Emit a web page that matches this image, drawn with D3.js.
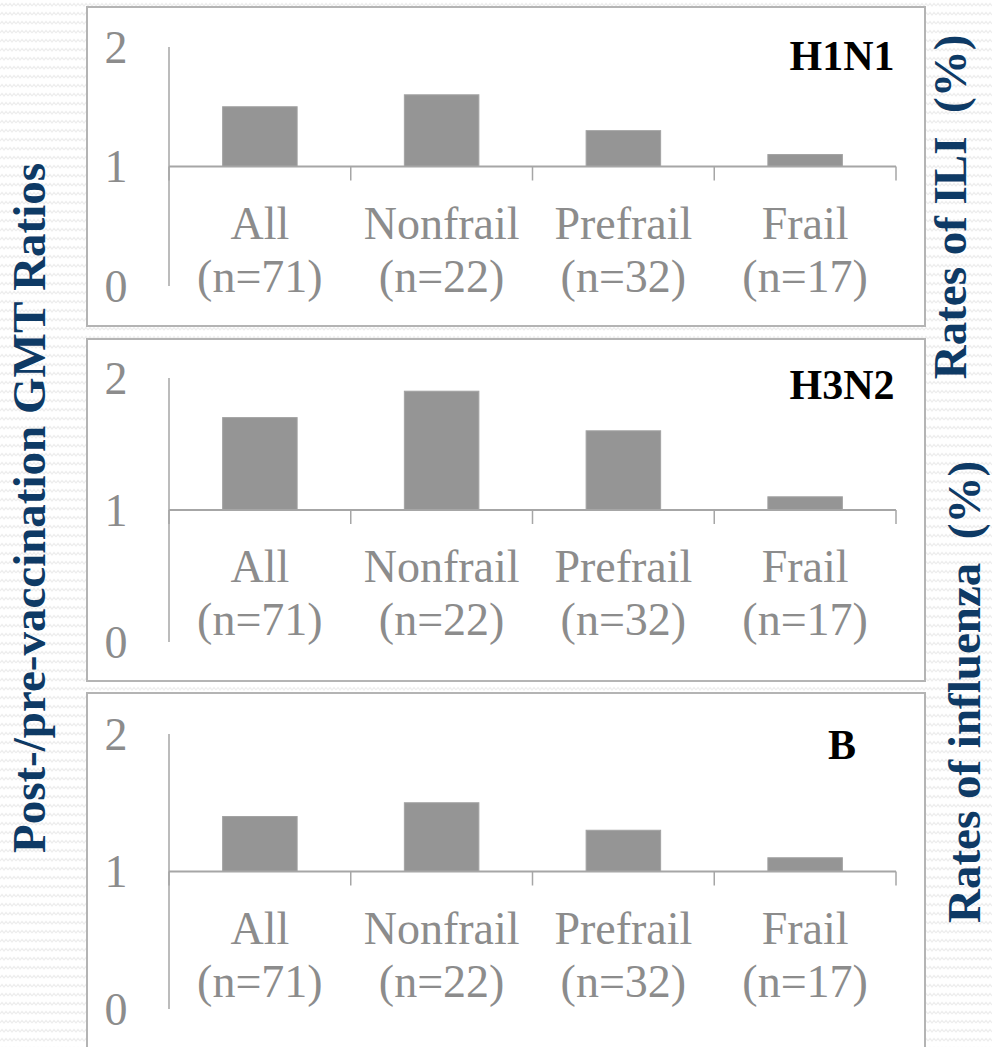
<!DOCTYPE html>
<html>
<head>
<meta charset="utf-8">
<script src="https://cdn.jsdelivr.net/npm/d3@7"></script>
<style>
  html, body { margin: 0; padding: 0; background: #fff; }
  svg { display: block; }
  svg text { font-family: "Times New Roman", "Liberation Serif", "DejaVu Serif", serif; }
</style>
</head>
<body>
<script>
// ---- data ----
const categories = ["All", "Nonfrail", "Prefrail", "Frail"];
const sampleSizes = ["(n=71)", "(n=22)", "(n=32)", "(n=17)"];
const panelNames = ["H1N1", "H3N2", "B"];
const h1n1Ratios = [1.5, 1.6, 1.3, 1.1];
const h3n2Ratios = [1.7, 1.9, 1.6, 1.1];
const fluBRatios = [1.4, 1.5, 1.3, 1.1];
const yTicks = [0, 1, 2];
const leftTitle = "Post-/pre-vaccination GMT Ratios";
const rightTitles = ["Rates of ILI\u00a0\u00a0(%)", "Rates of influenza\u00a0\u00a0(%)"];

const seriesList = [h1n1Ratios, h3n2Ratios, fluBRatios];

// ---- layout ----
const W = 992, H = 1047;
const layout = [
  { boxTop: 7,   boxBottom: 326,  y0: 286,  y2: 47,  titleY: 70 },
  { boxTop: 339, boxBottom: 681,  y0: 642,  y2: 378, titleY: 399 },
  { boxTop: 693, boxBottom: 1060, y0: 1009, y2: 734, titleY: 759 }
];
const boxLeft = 87, boxRight = 925;
const axisX = 169, axisRight = 896;
const gray = "#8c8c8c", lineGray = "#a6a6a6", barGray = "#959595", navy = "#0e3a65";

const svg = d3.select("body").append("svg")
  .attr("width", W).attr("height", H);

// background pattern
const defs = svg.append("defs");
const pat = defs.append("pattern").attr("id", "zig")
  .attr("patternUnits", "userSpaceOnUse").attr("width", 8).attr("height", 9);
pat.append("rect").attr("width", 8).attr("height", 9).attr("fill", "#ffffff");
pat.append("path").attr("d", "M0,6 L2,3.5 L4,6 L6,3.5 L8,6")
  .attr("fill", "none").attr("stroke", "#ededed").attr("stroke-width", 1.2);
svg.append("rect").attr("width", W).attr("height", H).attr("fill", "url(#zig)");

const x = d3.scaleBand().domain(categories).range([axisX, axisRight]).padding(0);
const barW = x.bandwidth() * 0.41;

layout.forEach((L, i) => {
  const g = svg.append("g");
  const y = d3.scaleLinear().domain([0, 2]).range([L.y0, L.y2]);
  const values = seriesList[i];

  g.append("rect")
    .attr("x", boxLeft).attr("y", L.boxTop)
    .attr("width", boxRight - boxLeft).attr("height", L.boxBottom - L.boxTop)
    .attr("fill", "#fff").attr("stroke", "#b4b4b4").attr("stroke-width", 2);

  // bars (baseline at 1)
  g.selectAll("rect.bar").data(values).join("rect")
    .attr("class", "bar")
    .attr("x", (d, j) => x(categories[j]) + (x.bandwidth() - barW) / 2)
    .attr("y", d => y(d))
    .attr("width", barW)
    .attr("height", d => y(1) - y(d))
    .attr("fill", barGray)
    .attr("stroke", "#a3a3a3").attr("stroke-width", 1);

  // y axis line
  g.append("line")
    .attr("x1", axisX).attr("x2", axisX)
    .attr("y1", y(2)).attr("y2", y(0))
    .attr("stroke", lineGray).attr("stroke-width", 1.5);

  // horizontal category axis at value 1
  const xAxis = d3.axisBottom(x).tickSize(0).tickFormat("");
  const ax = g.append("g").attr("transform", `translate(0,${y(1)})`).call(xAxis);
  ax.select(".domain").remove();
  ax.append("line").attr("x1", axisX).attr("x2", axisRight)
    .attr("stroke", lineGray).attr("stroke-width", 2);
  const bounds = categories.map(c => x(c)).concat([axisRight]);
  ax.selectAll("line.sep").data(bounds).join("line")
    .attr("class", "sep")
    .attr("x1", d => d).attr("x2", d => d)
    .attr("y1", 0).attr("y2", 14)
    .attr("stroke", lineGray).attr("stroke-width", 1.5);

  // category labels
  const lbl = g.selectAll("text.cat").data(categories).join("text")
    .attr("class", "cat")
    .attr("text-anchor", "middle")
    .attr("font-size", 46).attr("fill", gray);
  lbl.append("tspan")
    .attr("x", d => x(d) + x.bandwidth() / 2)
    .attr("y", y(1) + 72)
    .text(d => d);
  lbl.append("tspan")
    .attr("x", d => x(d) + x.bandwidth() / 2)
    .attr("y", y(1) + 125)
    .text((d, j) => sampleSizes[j]);

  // y tick labels
  g.selectAll("text.ytick").data(yTicks).join("text")
    .attr("class", "ytick")
    .attr("x", 116).attr("y", d => y(d))
    .attr("dy", "0.34em")
    .attr("text-anchor", "middle")
    .attr("font-size", 46).attr("fill", gray)
    .text(d => d);

  // panel title
  g.append("text")
    .attr("x", 842).attr("y", L.titleY)
    .attr("text-anchor", "middle")
    .attr("font-weight", "bold")
    .attr("font-size", 42).attr("fill", "#000")
    .text(panelNames[i]);
});

// side titles
svg.append("text")
  .attr("transform", "translate(45,508) rotate(-90)")
  .attr("text-anchor", "middle")
  .attr("font-weight", "bold")
  .attr("font-size", 47).attr("fill", navy)
  .text(leftTitle);

svg.append("text")
  .attr("transform", "translate(966,207) rotate(-90)")
  .attr("text-anchor", "middle")
  .attr("font-weight", "bold")
  .attr("font-size", 47).attr("fill", navy)
  .text(rightTitles[0]);

svg.append("text")
  .attr("transform", "translate(980,692) rotate(-90)")
  .attr("text-anchor", "middle")
  .attr("font-weight", "bold")
  .attr("font-size", 47).attr("fill", navy)
  .text(rightTitles[1]);
</script>
</body>
</html>
